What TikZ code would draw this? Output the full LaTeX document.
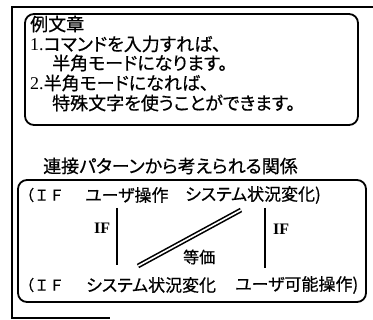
\documentclass[tikz,border=0pt]{standalone}
\usepackage{fontspec}
\setmainfont{Liberation Serif}
\newfontfamily\jp[RawFeature=+palt,FakeBold=0.6]{Noto Sans CJK JP}
\newfontfamily\jpm[FakeBold=0.6]{Noto Sans CJK JP}
\begin{document}
\begin{tikzpicture}[x=1pt,y=-1pt,
  txt/.style={anchor=west,inner sep=0pt,font=\fontsize{18}{18}\selectfont\jp},
  rowtxt/.style={anchor=west,inner sep=0pt,font=\fontsize{17}{17}\selectfont\jp},
  ifrow/.style={anchor=west,inner sep=0pt,font=\fontsize{15}{15}\selectfont\jpm},
  iflab/.style={anchor=west,inner sep=0pt,font=\fontsize{16}{16}\selectfont\bfseries},
  rbox/.style={draw,rounded corners=9pt,line width=1.8pt},
  frame/.style={line width=1.3pt}]
\useasboundingbox (0,0) rectangle (373,320);
% outer frame
\coordinate (fa) at (373,7);
\coordinate (fb) at (12,7);
\coordinate (fc) at (12,318);
\coordinate (fd) at (110,318);
\draw[frame] (fa) -- (fb) -- (fc) -- (fd);
% boxes
\draw[rbox] (25,14) rectangle (358,125);
\draw[rbox] (18,180) rectangle (366,302);
% first box text
\node[txt] (t0) at (30,24) {例文章};
\node[txt] (t1) at (30,44) {{\rmfamily 1.}コマンドを入力すれば、};
\node[txt] (t2) at (52,63) {半角モードになります。};
\node[txt] (t3) at (30,83) {{\rmfamily 2.}半角モードになれば、};
\node[txt] (t4) at (52,103) {特殊文字を使うことができます。};
% heading
\node[txt] (h) at (43,166) {連接パターンから考えられる関係};
% rows
\node[ifrow] (r1a) at (19,195) {（ＩＦ};
\node[rowtxt] (r1b) at (85,195) {ユーザ操作};
\node[rowtxt] (r1c) at (185,195) {システム状況変化)};
\node[ifrow] (r2a) at (19,285) {（ＩＦ};
\node[rowtxt] (r2b) at (86,285) {システム状況変化};
\node[rowtxt] (r2c) at (235,285) {ユーザ可能操作)};
\node[iflab] (ifl) at (94,228) {IF};
\node[iflab] (ifr) at (273,229) {IF};
\node[rowtxt,font=\fontsize{16}{16}\selectfont\jp] (eq) at (183,257) {等価};
% connectors
\coordinate (l1) at (117,208);
\coordinate (l2) at (117,265);
\coordinate (r1) at (265,208);
\coordinate (r2) at (265,268);
\coordinate (d1) at (241,210);
\coordinate (d2) at (138,266);
\draw[line width=1.2pt] (l1) -- (l2);
\draw[line width=1.7pt] (r1) -- (r2);
\draw[double,double distance=1.6pt,line width=1.6pt] (d1) -- (d2);
\end{tikzpicture}
\end{document}
